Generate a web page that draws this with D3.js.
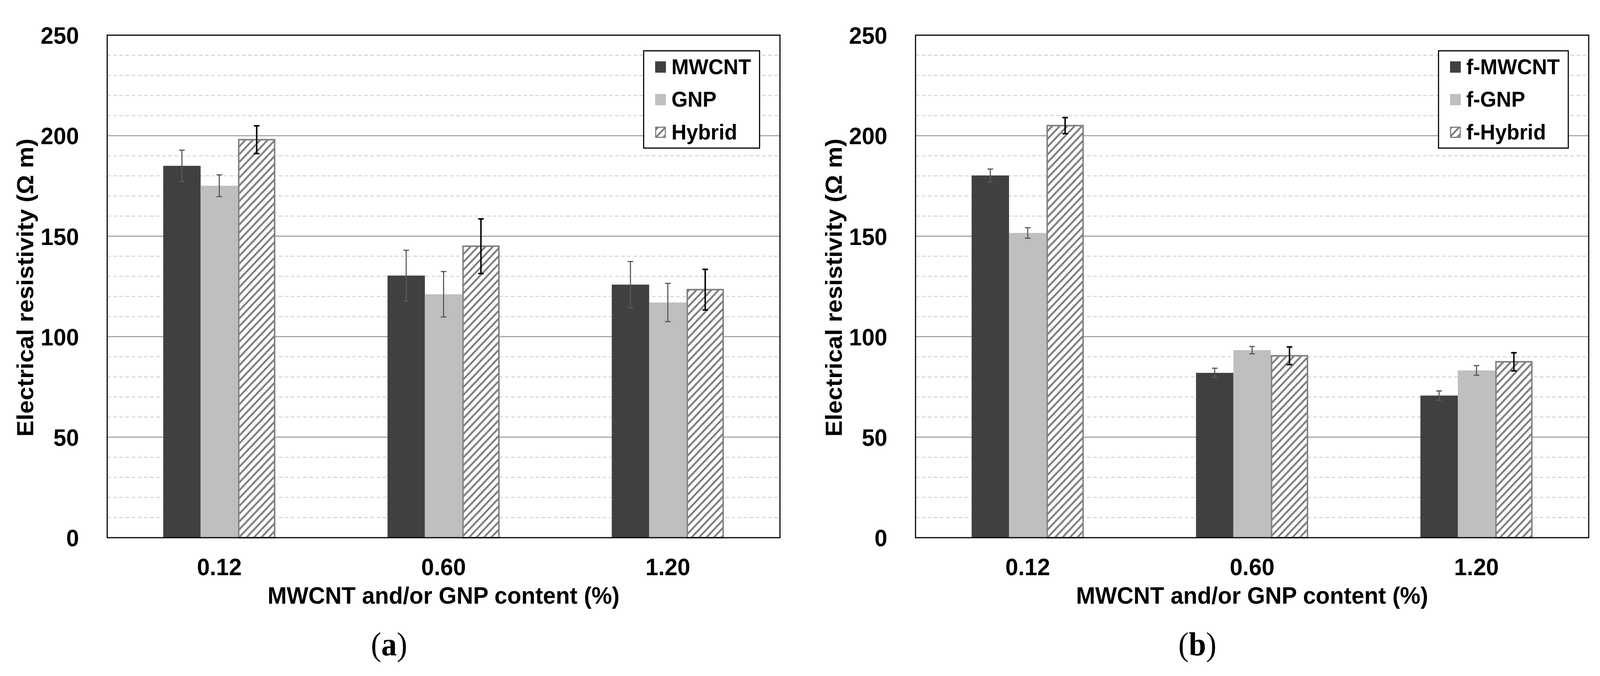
<!DOCTYPE html>
<html>
<head>
<meta charset="utf-8">
<script src="https://cdn.jsdelivr.net/npm/d3@7/dist/d3.min.js"></script>
<style>
  html, body { margin: 0; padding: 0; background: #fff; overflow: hidden; width: 100%; height: 100%; }
  svg { display: block; }
</style>
</head>
<body>
<script>
// ---------- data ----------
const categories = ["0.12", "0.60", "1.20"];
const yTickValues = [0, 50, 100, 150, 200, 250];

const seriesA = ["MWCNT", "GNP", "Hybrid"];
const mwcntA  = [185.0, 130.4, 125.9];
const gnpA    = [175.1, 121.1, 117.0];
const hybridA = [198.0, 145.0, 123.4];
const mwcntErrA  = [7.8, 12.6, 11.5];
const gnpErrA    = [5.4, 11.3, 9.5];
const hybridErrA = [6.9, 13.6, 10.1];

const seriesB = ["f-MWCNT", "f-GNP", "f-Hybrid"];
const mwcntB  = [180.2, 82.0, 70.7];
const gnpB    = [151.6, 93.3, 83.2];
const hybridB = [205.0, 90.5, 87.5];
const mwcntErrB  = [3.2, 2.3, 2.3];
const gnpErrB    = [2.6, 1.8, 2.4];
const hybridErrB = [4.0, 4.4, 4.5];

const yTitle = "Electrical resistivity (Ω m)";
const xTitle = "MWCNT and/or GNP content (%)";

// ---------- layout ----------
const W = 4314, H = 1730;
const TOP = 90, BOTTOM = 1376;
const FONT = "'Liberation Sans', Arial, Helvetica, sans-serif";
const fills = ["#404040", "#BFBFBF", "url(#hatch)"];
const errColors = ["#595959", "#595959", "#000000"];
const errWidths = [3, 3, 4];

const svg = d3.select("body").append("svg")
  .attr("width", "100vw").attr("height", "100vh")
  .attr("viewBox", `0 0 ${W} ${H}`)
  .attr("preserveAspectRatio", "none");
svg.append("rect").attr("width", W).attr("height", H).attr("fill", "#fff");

const defs = svg.append("defs");
const pat = defs.append("pattern").attr("id", "hatch")
  .attr("patternUnits", "userSpaceOnUse").attr("width", 20).attr("height", 20);
pat.append("rect").attr("width", 20).attr("height", 20).attr("fill", "#fff");
pat.append("path").attr("d", "M-5,5 L5,-5 M0,20 L20,0 M15,25 L25,15")
  .attr("stroke", "#808080").attr("stroke-width", 5).attr("stroke-linecap", "square");

const panels = [
  { left: 289, right: 2103, series: seriesA,
    values: [mwcntA, gnpA, hybridA], errs: [mwcntErrA, gnpErrA, hybridErrA], label: "a" },
  { left: 2468.5, right: 4283.5, series: seriesB,
    values: [mwcntB, gnpB, hybridB], errs: [mwcntErrB, gnpErrB, hybridErrB], label: "b" }
];

panels.forEach(p => {
  const g = svg.append("g");
  const x = d3.scaleBand().domain(categories).range([p.left, p.right]).padding(0);
  const bw = x.bandwidth() / 6;
  const xs = d3.scaleBand().domain(p.series)
    .range([x.bandwidth() / 2 - 1.5 * bw, x.bandwidth() / 2 + 1.5 * bw]).padding(0);
  const y = d3.scaleLinear().domain([0, 250]).range([BOTTOM, TOP]);

  // minor grid (dashed)
  const minor = y.ticks(25).filter(v => v % 50 !== 0);
  g.append("g").selectAll("line").data(minor).join("line")
    .attr("x1", p.left).attr("x2", p.right)
    .attr("y1", d => y(d)).attr("y2", d => y(d))
    .attr("stroke", "#D9D9D9").attr("stroke-width", 3)
    .attr("stroke-dasharray", "10,6.5");
  // major grid
  const major = yTickValues.filter(v => v > 0 && v < 250);
  g.append("g").selectAll("line").data(major).join("line")
    .attr("x1", p.left).attr("x2", p.right)
    .attr("y1", d => y(d)).attr("y2", d => y(d))
    .attr("stroke", "#A6A6A6").attr("stroke-width", 3);

  // bars
  p.series.forEach((s, si) => {
    const data = categories.map((c, ci) => ({ c, v: p.values[si][ci], e: p.errs[si][ci] }));
    const sel = g.append("g").selectAll("rect").data(data).join("rect")
      .attr("fill", fills[si]);
    if (si === 2) {
      sel.attr("x", d => x(d.c) + xs(s) + 2).attr("width", xs.bandwidth() - 4)
        .attr("y", d => y(d.v)).attr("height", d => y(0) - y(d.v))
        .attr("stroke", "#808080").attr("stroke-width", 4);
    } else {
      sel.attr("x", d => x(d.c) + xs(s)).attr("width", xs.bandwidth())
        .attr("y", d => y(d.v)).attr("height", d => y(0) - y(d.v));
    }
  });
  // error bars
  p.series.forEach((s, si) => {
    const data = categories.map((c, ci) => ({ c, v: p.values[si][ci], e: p.errs[si][ci] }));
    const eg = g.append("g").attr("stroke", errColors[si]).attr("stroke-width", errWidths[si]);
    const cx = d => x(d.c) + xs(s) + xs.bandwidth() / 2;
    eg.selectAll("line.v").data(data).join("line").attr("class", "v")
      .attr("x1", cx).attr("x2", cx)
      .attr("y1", d => y(d.v + d.e)).attr("y2", d => y(d.v - d.e));
    eg.selectAll("line.t").data(data).join("line").attr("class", "t")
      .attr("x1", d => cx(d) - 7.5).attr("x2", d => cx(d) + 7.5)
      .attr("y1", d => y(d.v + d.e)).attr("y2", d => y(d.v + d.e));
    eg.selectAll("line.b").data(data).join("line").attr("class", "b")
      .attr("x1", d => cx(d) - 7.5).attr("x2", d => cx(d) + 7.5)
      .attr("y1", d => y(d.v - d.e)).attr("y2", d => y(d.v - d.e));
  });

  // plot border
  g.append("rect").attr("x", p.left).attr("y", TOP)
    .attr("width", p.right - p.left).attr("height", BOTTOM - TOP)
    .attr("fill", "none").attr("stroke", "#000").attr("stroke-width", 3);

  // axes
  const ya = g.append("g").attr("transform", `translate(${p.left},0)`)
    .call(d3.axisLeft(y).tickValues(yTickValues).tickSize(0).tickPadding(76));
  ya.select(".domain").remove();
  ya.selectAll("text").attr("font-family", FONT).attr("font-weight", "bold")
    .attr("font-size", 62).attr("fill", "#000").attr("dy", "0.35em");

  const xa = g.append("g").attr("transform", `translate(0,${BOTTOM})`)
    .call(d3.axisBottom(x).tickSize(0).tickPadding(52));
  xa.select(".domain").remove();
  xa.selectAll("text").attr("font-family", FONT).attr("font-weight", "bold")
    .attr("font-size", 62).attr("fill", "#000");

  // titles
  g.append("text")
    .attr("transform", `translate(${p.left - 199},${(TOP + BOTTOM) / 2 + 3}) rotate(-90)`)
    .attr("text-anchor", "middle").attr("font-family", FONT).attr("font-weight", "bold")
    .attr("font-size", 62).text(yTitle);
  g.append("text")
    .attr("x", (p.left + p.right) / 2).attr("y", 1545)
    .attr("text-anchor", "middle").attr("font-family", FONT).attr("font-weight", "bold")
    .attr("font-size", 62).text(xTitle);

  // panel label
  const lab = g.append("text")
    .attr("x", p.left + 760).attr("y", 1677)
    .attr("text-anchor", "middle").attr("font-family", "'Liberation Serif', 'Times New Roman', serif")
    .attr("font-size", 84);
  lab.append("tspan").text("(");
  lab.append("tspan").attr("font-weight", "bold").text(p.label);
  lab.append("tspan").text(")");

  // legend
  const lg = g.append("g");
  const box = lg.append("rect").attr("fill", "#fff").attr("stroke", "#000").attr("stroke-width", 3);
  const rowY = [190, 273.5, 357];
  let maxW = 0;
  const texts = [];
  p.series.forEach((s, si) => {
    const t = lg.append("text").attr("y", rowY[si])
      .attr("font-family", FONT).attr("font-weight", "bold").attr("font-size", 56).text(s);
    texts.push(t);
    maxW = Math.max(maxW, t.node().getComputedTextLength());
  });
  const boxW = 75 + maxW + 23;
  const boxR = p.right - 55;
  const boxL = boxR - boxW;
  box.attr("x", boxL).attr("y", 130).attr("width", boxW).attr("height", 249);
  texts.forEach(t => t.attr("x", boxL + 75));
  p.series.forEach((s, si) => {
    const r = lg.append("rect").attr("fill", fills[si]);
    if (si === 2) {
      r.attr("x", boxL + 32.5).attr("y", rowY[si] - 31.5).attr("width", 26).attr("height", 26)
        .attr("stroke", "#808080").attr("stroke-width", 3);
    } else {
      r.attr("x", boxL + 31).attr("y", rowY[si] - 33).attr("width", 29).attr("height", 29);
    }
  });
});
</script>
</body>
</html>
